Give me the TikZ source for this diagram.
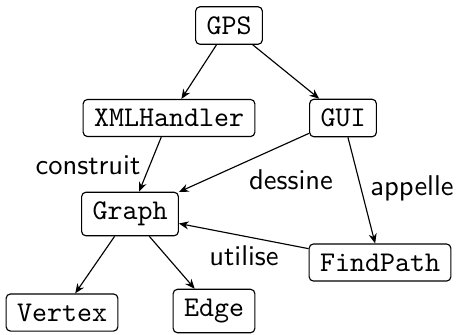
\documentclass[tikz,border=0pt]{standalone}
\usetikzlibrary{arrows.meta}
\begin{document}
\begin{tikzpicture}[x=0.35pt,y=-0.35pt,
  classbox/.style={draw,rounded corners=1.5pt,inner xsep=3.8pt,inner ysep=3.4pt,font=\ttfamily},
  rel/.style={font=\sffamily},
  dep/.style={-{Stealth[length=3.4pt,width=2.8pt]}}]
\useasboundingbox (0,0) rectangle (458,334);
% classes
\node[classbox] (gps)  at (229,25.5) {GPS};
\node[classbox] (xml)  at (169,118)  {XMLHandler};
\node[classbox] (gui)  at (343,118)  {GUI};
\node[classbox] (graph) at (130,214) {Graph};
\node[classbox] (find) at (380,262.5) {FindPath};
\node[classbox] (vert) at (62,312.5) {Vertex};
\node[classbox] (edge) at (214,311) {Edge};
% dependencies
\draw[dep] (gps) -- (xml);
\draw[dep] (gps) -- (gui);
\draw[dep] (xml) -- (graph);
\draw[dep] (gui) -- (graph);
\draw[dep] (gui) -- (find);
\draw[dep] (find) -- (graph);
\draw[dep] (graph) -- (vert);
\draw[dep] (graph) -- (edge);
% relation names
\node[rel] (lconstruit) at (88,165) {construit};
\node[rel] (ldessine) at (291,180) {dessine};
\node[rel] (lappelle) at (412,188) {appelle};
\node[rel] (lutilise) at (244,256) {utilise};
\end{tikzpicture}
\end{document}
